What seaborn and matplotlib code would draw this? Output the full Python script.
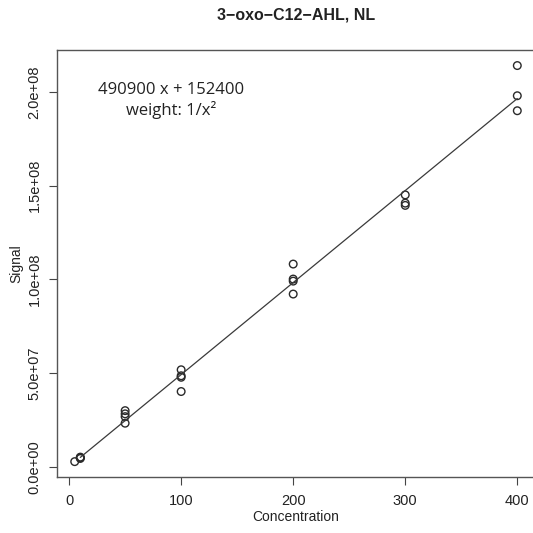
import matplotlib
matplotlib.use("Agg")
import matplotlib.pyplot as plt
import seaborn as sns
import pandas as pd
import numpy as np

# ---- data ----
concentration = [5, 10, 10, 10, 50, 50, 50, 50, 100, 100, 100, 100,
                 200, 200, 200, 200, 300, 300, 300, 400, 400, 400]
signal = [2.8e6, 4.5e6, 4.9e6, 5.2e6,
          30.0e6, 28.3e6, 26.8e6, 23.3e6,
          51.8e6, 48.6e6, 47.8e6, 40.2e6,
          108.2e6, 100.2e6, 99.1e6, 92.2e6,
          145.1e6, 140.7e6, 139.5e6,
          214.1e6, 198.0e6, 190.0e6]
fit_slope = 490900
fit_intercept = 152400
fit_range = [10, 400]
x_ticks = [0, 100, 200, 300, 400]
y_ticks = [0, 5e7, 1e8, 1.5e8, 2e8]
y_tick_labels = ["0.0e+00", "5.0e+07", "1.0e+08", "1.5e+08", "2.0e+08"]
title = "3\u2212oxo\u2212C12\u2212AHL, NL"
equation = "490900 x + 152400"
weight_text = "weight: 1/x\u00b2"

df = pd.DataFrame({"Concentration": concentration, "Signal": signal})
fit_x = np.array(fit_range, dtype=float)
fit_df = pd.DataFrame({"Concentration": fit_x,
                       "Signal": fit_slope * fit_x + fit_intercept})

sns.set_theme(style="ticks")
plt.rcParams["font.family"] = ["Liberation Sans", "DejaVu Sans"]

fig = plt.figure(figsize=(5.33, 5.33), dpi=100)
ax = fig.add_axes([57 / 533, 56 / 533, 478 / 533, 427 / 533])

sns.lineplot(data=fit_df, x="Concentration", y="Signal", ax=ax,
             color="#3a3a3a", linewidth=0.9)
sns.scatterplot(data=df, x="Concentration", y="Signal", ax=ax,
                marker="o", s=30, facecolor="none", edgecolor="#2a2a2a",
                linewidth=1.0)

ax.set_xlim(-10.8, 415.8)
ax.set_ylim(-5.4e6, 2.224e8)
ax.set_xticks(x_ticks)
ax.set_xticklabels([str(t) for t in x_ticks], fontsize=10.5)
ax.set_yticks(y_ticks)
ax.set_yticklabels(y_tick_labels, rotation=90, va="center", fontsize=10.5)
ax.tick_params(axis="x", direction="out", length=6, width=0.8,
               color="#444444", pad=6, labelcolor="#222222")
ax.tick_params(axis="y", direction="out", length=6, width=0.8,
               color="#444444", pad=5, labelcolor="#222222")

for s in ax.spines.values():
    s.set_color("#555555")
    s.set_linewidth(1.0)

ax.set_xlabel("Concentration", fontsize=10, color="#222222", labelpad=2)
ax.set_ylabel("Signal", fontsize=10, color="#222222", labelpad=3)
fig.text(296 / 533, 1 - 15 / 533, title, ha="center", va="center",
         fontsize=11.5, fontweight="bold", color="#222222")

ax.text(91, 2.01e8, equation, ha="center", va="center",
        fontsize=12, family=["Open Sans", "DejaVu Sans"], color="#222222")
ax.text(91, 1.905e8, weight_text, ha="center", va="center",
        fontsize=12, family=["Open Sans", "DejaVu Sans"], color="#222222")

fig.savefig("out.png", dpi=100)
